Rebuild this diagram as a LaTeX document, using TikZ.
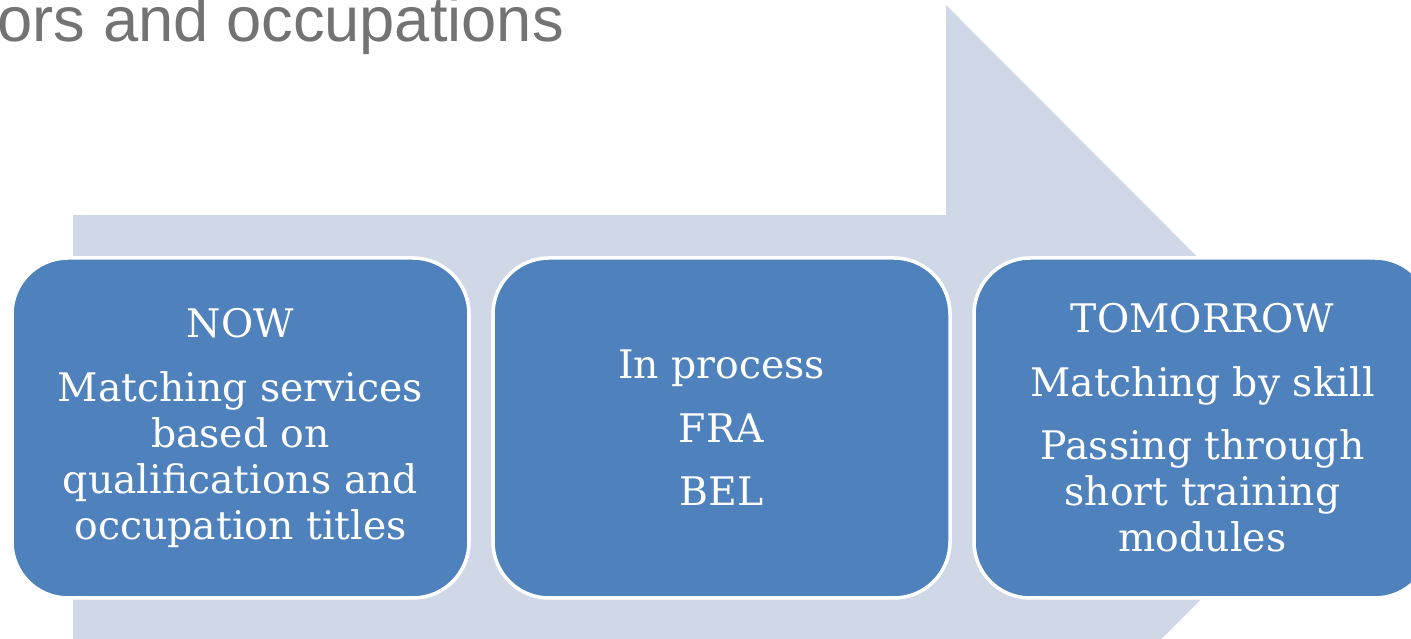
\documentclass[tikz,border=0pt]{standalone}
\usepackage{fontspec}
\usepackage{xcolor}
\usepackage{tikz}
\usetikzlibrary{calc}
\newfontfamily\boxfont{DejaVu Serif}
\newfontfamily\titlefont{Liberation Sans}
\definecolor{arrowgray}{HTML}{D0D8E8}
\definecolor{boxblue}{HTML}{4F81BD}
\definecolor{titlegray}{HTML}{737373}

\begin{document}
\begin{tikzpicture}[
  stagebox/.style={rectangle, rounded corners=0.56cm, fill=boxblue, draw=white, line width=1pt,
    minimum width=4.57cm, minimum height=3.40cm, inner sep=0pt, align=center, text=white,
    font=\boxfont\fontsize{11.2}{13.1}\selectfont},
  titletext/.style={anchor=base west, inner sep=0pt, text=titlegray,
    font=\titlefont\fontsize{18}{21}\selectfont}
  ]
  \useasboundingbox (0,0) rectangle (14.11,6.39);
  \clip (0,0) rectangle (14.11,6.39);
  \fill[arrowgray] (0.73,4.24) -- (9.46,4.24) -- (9.46,6.34) -- (13.70,2.09) -- (9.46,-2.16) -- (9.46,-0.06) -- (0.73,-0.06) -- cycle;
  \node[titletext] (title) at (-0.03,5.97) {ors and occupations};
  \node[stagebox] (now) at (2.405,2.11) {NOW\\[5pt]Matching services\\based on\\qualifications and\\occupation titles};
  \node[stagebox] (process) at (7.215,2.11) {In process\\[5pt]FRA\\[5pt]BEL};
  \node[stagebox] (tomorrow) at (12.025,2.11) {TOMORROW\\[5pt]Matching by skill\\[5pt]Passing through\\short training\\modules};
\end{tikzpicture}
\end{document}
